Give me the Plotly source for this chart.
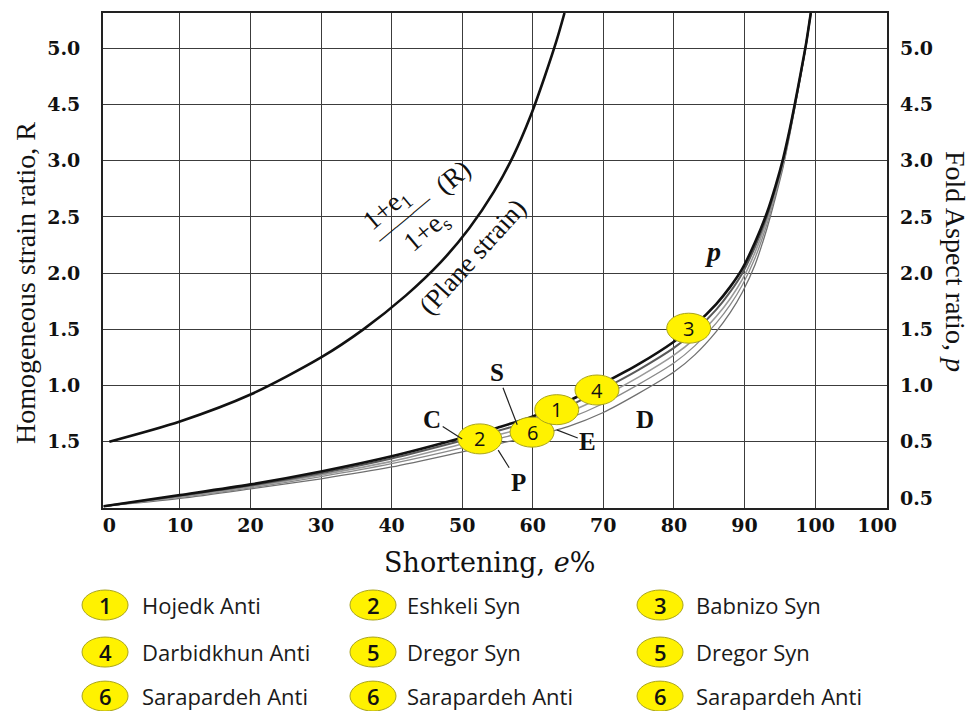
import plotly.graph_objects as go

# ---------------- data ----------------
x_grid_vals = [10, 20, 30, 40, 50, 60, 70, 80, 90, 100]
x_label_vals = [0, 10, 20, 30, 40, 50, 60, 70, 80, 90, 100, 108.8]
x_label_text = ["0", "10", "20", "30", "40", "50", "60", "70", "80", "90", "100", "100"]

left_tick_vals = [1, 2, 3, 4, 5, 6, 7, 8]
left_tick_text = ["1.5", "1.0", "1.5", "2.0", "2.5", "3.0", "4.5", "5.0"]
right_tick_vals = [0, 1, 2, 3, 4, 5, 6, 7, 8]
right_tick_text = ["0.5", "0.5", "1.0", "1.5", "2.0", "2.5", "3.0", "4.5", "5.0"]

# plane strain curve  (shortening %, grid-row position)
plane_x = [0, 10, 20, 30, 36, 42, 47, 51, 54.5, 57.3, 59.7, 61.7, 63.4, 64.5]
plane_y = [1.0, 1.36, 1.84, 2.5, 3.0, 3.6, 4.2, 4.8, 5.45, 6.1, 6.8, 7.5, 8.15, 8.63]

# fold aspect-ratio curves
fold_x = [-0.8, 10, 20, 30, 40, 50, 55, 60, 65, 70, 75, 80, 83, 86, 88, 89.7,
          91.5, 93.2, 94.4, 95.5, 96.4, 97.2, 98, 98.7, 99.4]
fold_S = [-0.15, 0.05, 0.24, 0.47, 0.74, 1.07, 1.25, 1.45, 1.72, 2.04, 2.38, 2.78, 3.08, 3.45, 3.76, 4.08,
          4.55, 5.08, 5.55, 6.05, 6.55, 7.05, 7.58, 8.06, 8.63]
fold_C = [-0.15, 0.04, 0.22, 0.44, 0.70, 1.02, 1.19, 1.38, 1.63, 1.94, 2.28, 2.67, 2.97, 3.35, 3.67, 4.0,
          4.47, 5.02, 5.51, 6.02, 6.53, 7.04, 7.57, 8.05, 8.63]
fold_E = [-0.15, 0.02, 0.20, 0.41, 0.65, 0.96, 1.12, 1.29, 1.52, 1.81, 2.15, 2.54, 2.84, 3.23, 3.55, 3.89,
          4.37, 4.95, 5.46, 5.98, 6.5, 7.02, 7.55, 8.05, 8.63]
fold_P = [-0.15, 0.01, 0.18, 0.38, 0.61, 0.89, 1.05, 1.21, 1.41, 1.68, 2.02, 2.40, 2.71, 3.11, 3.44, 3.79,
          4.27, 4.88, 5.41, 5.94, 6.48, 7.0, 7.54, 8.04, 8.63]
fold_D = [-0.15, -0.01, 0.16, 0.34, 0.55, 0.82, 0.96, 1.10, 1.27, 1.52, 1.86, 2.24, 2.55, 2.96, 3.30, 3.66,
          4.15, 4.80, 5.35, 5.90, 6.45, 6.98, 7.52, 8.03, 8.63]

# numbered sites on the curves
site_labels = ["2", "6", "1", "4", "3"]
site_x = [52.5, 59.9, 63.4, 69.1, 82.1]
site_y = [1.05, 1.17, 1.57, 1.92, 3.02]

# legend entries (row-major, 3 columns)
legend_numbers = ["1", "2", "3", "4", "5", "5", "6", "6", "6"]
legend_names = ["Hojedk Anti", "Eshkeli Syn", "Babnizo Syn",
                "Darbidkhun Anti", "Dregor Syn", "Dregor Syn",
                "Sarapardeh Anti", "Sarapardeh Anti", "Sarapardeh Anti"]

# ---------------- styling constants ----------------
YELLOW = "#FFF200"
GRID = "#3c3c3c"
SERIF = "Liberation Serif"
TICKFONT = dict(family="DejaVu Serif", size=19, color="#111", weight="bold")
NUMFONT = dict(family="Open Sans", size=20, color="#111")

fig = go.Figure()

fig.add_trace(go.Scatter(x=plane_x, y=plane_y, mode="lines",
                         line=dict(color="#111", width=2.6, shape="spline", smoothing=0.8),
                         hoverinfo="skip", showlegend=False, xaxis="x", yaxis="y"))

fold_lines = [
    (fold_D, "#707070", 1.3),
    (fold_P, "#8a8a8a", 1.3),
    (fold_E, "#9a9a9a", 1.6),
    (fold_C, "#5a5a5a", 2.0),
    (fold_S, "#111111", 2.6),
]
for ys, col, w in fold_lines:
    fig.add_trace(go.Scatter(x=fold_x, y=ys, mode="lines",
                             line=dict(color=col, width=w, shape="spline", smoothing=0.8),
                             hoverinfo="skip", showlegend=False, xaxis="x2", yaxis="y2"))

# site ellipses + numbers
for lab, sx, sy in zip(site_labels, site_x, site_y):
    fig.add_shape(type="circle", xref="x", yref="y",
                  xsizemode="pixel", ysizemode="pixel", xanchor=sx, yanchor=sy,
                  x0=-22, x1=22, y0=-15, y1=15,
                  fillcolor=YELLOW, line=dict(color="#a9a41c", width=1), layer="above")
    fig.add_annotation(x=sx, y=sy, text=lab, showarrow=False, xanchor="center",
                       yanchor="middle", font=NUMFONT)

# legend (below the plot)
col_ellipse_x = [0.0026, 0.3444, 0.7105]
col_text_x = [0.0472, 0.3852, 0.7538]
row_y = [-0.196, -0.291, -0.380]
for i, (num, name) in enumerate(zip(legend_numbers, legend_names)):
    r, c = divmod(i, 3)
    fig.add_shape(type="circle", xref="paper", yref="paper",
                  xsizemode="pixel", ysizemode="pixel",
                  xanchor=col_ellipse_x[c], yanchor=row_y[r],
                  x0=-23, x1=23, y0=-15, y1=15,
                  fillcolor=YELLOW, line=dict(color="#a9a41c", width=1), layer="above")
    fig.add_annotation(x=col_ellipse_x[c], y=row_y[r], xref="paper", yref="paper",
                       text=num, showarrow=False, xanchor="center", yanchor="middle",
                       font=dict(family="Open Sans", size=22, color="#111", weight=600))
    fig.add_annotation(x=col_text_x[c], y=row_y[r], xref="paper", yref="paper",
                       text=name, showarrow=False, xanchor="left", yanchor="middle",
                       font=dict(family="Open Sans", size=22, color="#1a1a1a"))

# axis titles
fig.add_annotation(x=-0.0995, y=0.4545, xref="paper", yref="paper", textangle=-90,
                   xanchor="center", yanchor="middle",
                   text="Homogeneous strain ratio, R", showarrow=False,
                   font=dict(family=SERIF, size=28, color="#111"))
fig.add_annotation(x=1.0867, y=0.497, xref="paper", yref="paper", textangle=90,
                   xanchor="center", yanchor="middle",
                   text="Fold Aspect ratio, <i>p</i>", showarrow=False,
                   font=dict(family=SERIF, size=28, color="#111"))
fig.add_annotation(x=0.4936, y=-0.111, xref="paper", yref="paper",
                   xanchor="center", yanchor="middle",
                   text="Shortening, <i>e</i>%", showarrow=False,
                   font=dict(family="DejaVu Serif", size=27, color="#111"))

# plane-strain formula labels
FORM = dict(family=SERIF, size=27, color="#111")
fig.add_annotation(x=39.3, y=5.12, text="1+e<sub>1</sub>", textangle=-40, showarrow=False, font=FORM)
fig.add_annotation(x=41.6, y=4.98, text="———", textangle=-40, showarrow=False,
                   font=dict(family=SERIF, size=22, color="#111"))
fig.add_annotation(x=45.0, y=4.73, text="1+e<sub>s</sub>", textangle=-40, showarrow=False, font=FORM)
fig.add_annotation(x=48.7, y=5.71, text="(R)", textangle=-40, showarrow=False, font=FORM)
fig.add_annotation(x=51.4, y=4.29, text="(Plane strain)", textangle=-48, showarrow=False, font=FORM)

# curve letters with leader lines
LET = dict(family=SERIF, size=25, color="#111", weight="bold")
fig.add_annotation(x=50.0, y=1.05, ax=-30, ay=-19, text="C", showarrow=True, arrowhead=0,
                   arrowwidth=1.2, arrowcolor="#222", font=LET)
fig.add_annotation(x=57.8, y=1.30, ax=-20, ay=-52, text="S", showarrow=True, arrowhead=0,
                   arrowwidth=1.2, arrowcolor="#222", font=LET)
fig.add_annotation(x=55.1, y=0.85, ax=20, ay=32, text="P", showarrow=True, arrowhead=0,
                   arrowwidth=1.2, arrowcolor="#222", font=LET)
fig.add_annotation(x=63.4, y=1.21, ax=31, ay=12, text="E", showarrow=True, arrowhead=0,
                   arrowwidth=1.2, arrowcolor="#222", font=LET)
fig.add_annotation(x=75.9, y=1.39, text="D", showarrow=False, font=LET)
fig.add_annotation(x=85.6, y=4.38, text="<i>p</i>", showarrow=False,
                   font=dict(family=SERIF, size=28, color="#111", weight="bold"))

XR = [-0.9, 110.2]
YR = [-0.18, 8.63]
fig.update_layout(
    width=976, height=711,
    margin=dict(l=103, r=89, t=13, b=203),
    plot_bgcolor="white", paper_bgcolor="white",
    xaxis=dict(range=XR, tickmode="array", tickvals=x_grid_vals, showticklabels=False,
               showgrid=True, gridcolor=GRID, gridwidth=1.3, zeroline=False,
               showline=True, mirror=True, linecolor="#222", linewidth=1.8, ticks=""),
    yaxis=dict(range=YR, tickmode="array", tickvals=left_tick_vals, ticktext=left_tick_text,
               showgrid=True, gridcolor=GRID, gridwidth=1.3, zeroline=False,
               showline=True, mirror=True, linecolor="#222", linewidth=1.8, ticks="",
               tickfont=TICKFONT, ticklabelstandoff=17),
    xaxis2=dict(range=XR, overlaying="x", anchor="y2", side="bottom", tickmode="array",
                tickvals=x_label_vals, ticktext=x_label_text, showgrid=False, zeroline=False,
                showline=False, ticks="", tickfont=TICKFONT, ticklabelstandoff=4),
    yaxis2=dict(range=YR, overlaying="y", anchor="x2", side="right", tickmode="array",
                tickvals=right_tick_vals, ticktext=right_tick_text, showgrid=False,
                zeroline=False, showline=False, ticks="", tickfont=TICKFONT,
                ticklabelstandoff=12),
    showlegend=False,
)

fig.write_html("out.html", config={"displayModeBar": False},
               post_script="document.body.style.margin='0';")
